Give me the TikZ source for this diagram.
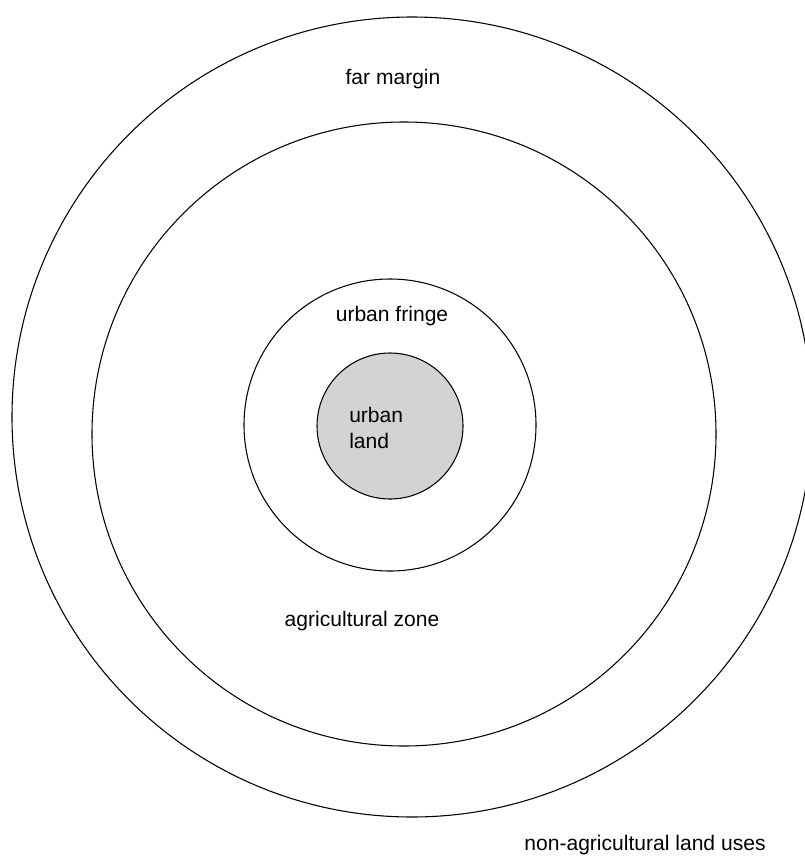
\documentclass[tikz,border=0pt]{standalone}
\usepackage{fontspec}
\setmainfont{Liberation Sans}
\usepackage{tikz}
\definecolor{urbangray}{RGB}{211,211,211}
\tikzset{zonelabel/.style={font=\fontsize{15.8}{19}\selectfont, inner sep=0pt}}

\begin{document}
\begin{tikzpicture}[x=0.75pt,y=-0.75pt]
\newcommand{\ring}[3]{\draw [line width=0.8pt] (#1,#2) circle (#3);}
\useasboundingbox (0,0) rectangle (805,857);
\clip (0,0) rectangle (805,857);

\ring{412}{417}{400}
\ring{404}{434}{312}
\ring{390}{425}{146}
\draw [line width=0.8pt, fill=urbangray] (390,426) circle (73);

\node [zonelabel] (farmargin) at (393,79) {far margin};
\node [zonelabel] (fringe) at (392,316) {urban fringe};
\node [zonelabel, anchor=west, align=left] (urbanland) at (349,428) {urban\\land};
\node [zonelabel] (agri) at (362,621) {agricultural zone};
\node [zonelabel] (nonagri) at (645,845) {non-agricultural land uses};
\end{tikzpicture}
\end{document}
